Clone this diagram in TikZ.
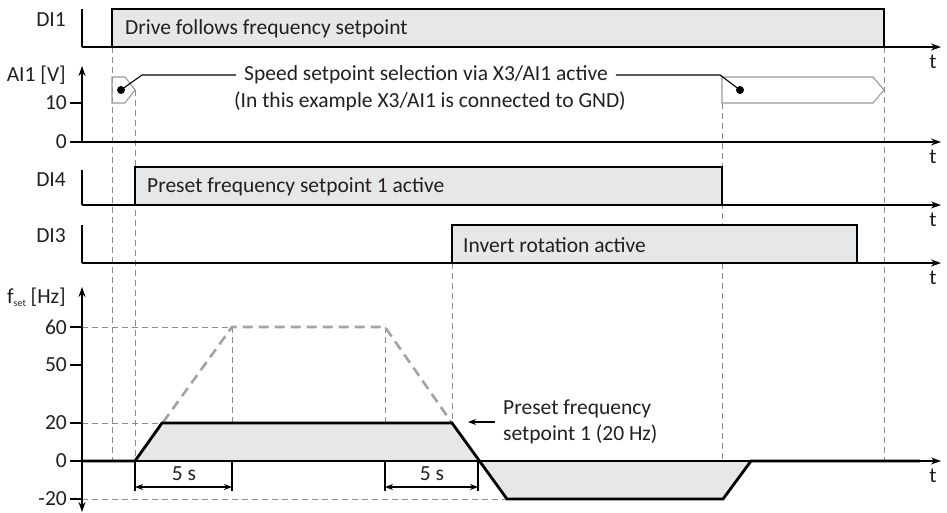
\documentclass[tikz,border=0pt]{standalone}
\usepackage{fontspec}
\setmainfont{Carlito}
\usetikzlibrary{arrows.meta,calc}
\definecolor{sigfill}{HTML}{E6E7E8}
\definecolor{rampgray}{HTML}{A3A3A3}
\definecolor{guidegray}{HTML}{8C8C8C}
\definecolor{busgray}{HTML}{9A9A9A}
\definecolor{inkgray}{HTML}{231F20}

\begin{document}
\begin{tikzpicture}[
    x=1pt, y=-1pt,
    every node/.style={font=\fontsize{21.5}{26}\selectfont, inner sep=0pt, text=inkgray},
    axis/.style={line width=1.6pt, -{Stealth[length=10pt, width=7pt]}},
    vaxis/.style={line width=1.6pt},
    signal/.style={line width=2.8pt, line join=miter},
    tick/.style={line width=1.3pt},
    guide/.style={color=guidegray, line width=0.9pt, dash pattern=on 6pt off 4pt},
    ramp/.style={color=rampgray, line width=2.6pt, dash pattern=on 10pt off 6pt},
    bus/.style={color=busgray, line width=1.1pt},
    leader/.style={line width=1.1pt},
    dimline/.style={line width=1.2pt, {Stealth[length=8pt, width=6pt]}-{Stealth[length=8pt, width=6pt]}},
    extline/.style={line width=1.2pt},
    tlabel/.style={anchor=north},
    ylabel/.style={anchor=east},
]
\useasboundingbox (0,0) rectangle (947,513);

% === Guide lines (behind everything) ===
\draw[guide] (112,47) -- (112,461);
\draw[guide] (135,90) -- (135,461);
\draw[guide] (232,327) -- (232,461);
\draw[guide] (385,327) -- (385,461);
\draw[guide] (452,263) -- (452,423);
\draw[guide] (722,103) -- (722,499);
\draw[guide] (884,47) -- (884,461);
\draw[guide] (82,327) -- (232,327);
\draw[guide] (82,423) -- (162,423);
\draw[guide] (82,499) -- (507,499);

% === DI1 ===
\node[ylabel] (di1lbl) at (66,20) {DI1};
\fill[sigfill] (112,47) rectangle (884,9);
\draw[vaxis] (82,9) -- (82,47);
\draw[axis] (82,47) -- (941,47);
\draw[signal] (82,47) -- (112,47) -- (112,9) -- (884,9) -- (884,47) -- (920,47);
\node[anchor=west] (di1txt) at (125,29) {Drive follows frequency setpoint};
\node[tlabel] (t1) at (933,55) {t};

% === AI1 ===
\node[ylabel] (ai1lbl) at (66,75) {AI1 [V]};
\draw[axis] (82,142) -- (82,66);
\draw[axis] (82,142) -- (941,142);
\draw[tick] (70,103) -- (82,103);
\draw[tick] (70,142) -- (82,142);
\node[ylabel] (ai1ten) at (67,103) {10};
\node[ylabel] (ai1zero) at (67,142) {0};
\node[tlabel] (t2) at (933,150) {t};

\draw[bus] (112,77) -- (125,77) -- (135,90) -- (125,103) -- (112,103) -- cycle;
\draw[bus] (722,77) -- (873,77) -- (884,90) -- (873,103) -- (722,103) -- cycle;
\coordinate (dotL) at (121,90);
\coordinate (dotR) at (740,90);
\fill (dotL) circle (4pt);
\fill (dotR) circle (4pt);

\node (speedlbl) at (426,75) {Speed setpoint selection via X3/AI1 active};
\node (gndlbl) at (430,101) {(In this example X3/AI1 is connected to GND)};
\draw[leader] (dotL) -- ++(21,-15) -- ([xshift=-8pt]speedlbl.west);
\draw[leader] ([xshift=8pt]speedlbl.east) -- (720,75) -- (dotR);

% === DI4 ===
\node[ylabel] (di4lbl) at (66,180) {DI4};
\fill[sigfill] (135,205) rectangle (722,167);
\draw[vaxis] (82,170) -- (82,205);
\draw[axis] (82,205) -- (941,205);
\draw[signal] (82,205) -- (135,205) -- (135,167) -- (722,167) -- (722,205) -- (920,205);
\node[anchor=west] (di4txt) at (147,187) {Preset frequency setpoint 1 active};
\node[tlabel] (t3) at (933,213) {t};

% === DI3 ===
\node[ylabel] (di3lbl) at (66,236) {DI3};
\fill[sigfill] (452,263) rectangle (857,225);
\draw[vaxis] (82,225) -- (82,263);
\draw[axis] (82,263) -- (941,263);
\draw[signal] (82,263) -- (452,263) -- (452,225) -- (857,225) -- (857,263) -- (920,263);
\node[anchor=west] (di3txt) at (463,245) {Invert rotation active};
\node[tlabel] (t4) at (933,271) {t};

% === f_set ===
\node[ylabel] (fsetlbl) at (66,297) {f\raisebox{-3pt}{\fontsize{10}{10}\selectfont set} [Hz]};
\draw[line width=1.6pt, {Stealth[length=10pt, width=7pt]}-{Stealth[length=10pt, width=7pt]}] (82,512) -- (82,287);
\foreach \yv/\lbl in {327/60, 365/50, 423/20, 461/0, 499/-20} {
    \draw[tick] (70,\yv) -- (82,\yv);
    \node[ylabel] at (67,\yv) {\lbl};
}
\fill[sigfill] (135,461) -- (162,423) -- (452,423) -- (479,461) -- cycle;
\fill[sigfill] (479,461) -- (507,499) -- (723,499) -- (751,461) -- cycle;
\draw[ramp] (135,461) -- (232,327) -- (385,327) -- (452,423);
\draw[axis] (82,461) -- (941,461);
\draw[signal] (82,461) -- (135,461) -- (162,423) -- (452,423) -- (507,499) -- (723,499) -- (751,461) -- (920,461);
\node[tlabel] (t5) at (933,469) {t};

% 5 s dimensions
\draw[extline] (135,461) -- (135,491);
\draw[extline] (232,461) -- (232,491);
\draw[dimline] (135,487) -- (232,487);
\node (dim1) at (184,474) {5 s};
\draw[extline] (385,461) -- (385,491);
\draw[extline] (478,461) -- (478,491);
\draw[dimline] (385,487) -- (478,487);
\node (dim2) at (432,474) {5 s};

% Preset annotation
\node[anchor=west, align=left] (presetlbl) at (503,422) {Preset frequency\\setpoint 1 (20 Hz)};
\coordinate (ramp20) at (468,422);
\draw[leader, -{Stealth[length=8pt, width=6pt]}] ([xshift=-8pt]presetlbl.west) -- (ramp20);

\end{tikzpicture}
\end{document}
